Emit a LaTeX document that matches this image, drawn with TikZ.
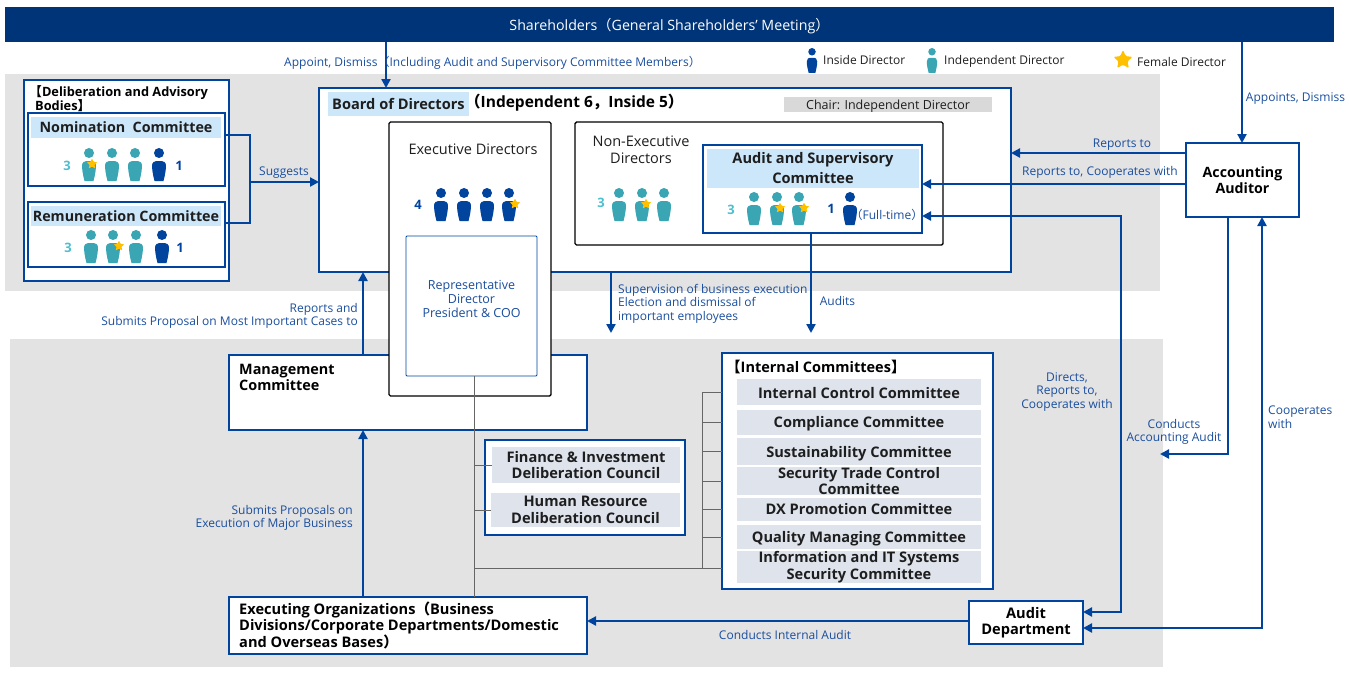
\documentclass[tikz,border=0pt]{standalone}
\usepackage{fontspec}
\setmainfont{Open Sans}
\newfontfamily\cjk{Noto Sans CJK JP}
\usetikzlibrary{shapes.geometric,arrows.meta,positioning}

\definecolor{navybar}{HTML}{003478}
\definecolor{lineblue}{HTML}{00449E}
\definecolor{textblue}{HTML}{1A4E9E}
\definecolor{tealdir}{HTML}{3AA5B3}
\definecolor{tealnum}{HTML}{4DBFCE}
\definecolor{stargold}{HTML}{FFC000}
\definecolor{panelgray}{HTML}{E3E3E3}
\definecolor{headblue}{HTML}{CCE6FA}
\definecolor{rowgray}{HTML}{DEE3EC}
\definecolor{chairgray}{HTML}{D9D9D9}
\definecolor{inktext}{HTML}{1E1E1E}

\tikzset{
    panel/.style={fill=panelgray, inner sep=0, outer sep=0},
    bluebox/.style={draw=lineblue, line width=2.2pt, fill=white, inner sep=0, outer sep=0},
    blackbox/.style={draw=black, line width=1.4pt, fill=white, rounded corners=1.5pt, inner sep=0, outer sep=0},
    headbar/.style={fill=headblue, inner sep=0, outer sep=0, align=center, text=inktext, font=\fontsize{14.3}{20}\selectfont\bfseries},
    rowbar/.style={fill=rowgray, inner sep=0, outer sep=0, align=center, text=inktext, font=\fontsize{14.6}{16.5}\selectfont\bfseries},
    boxtext/.style={inner sep=0, align=left, text=black, font=\fontsize{14.4}{16.5}\selectfont\bfseries},
    plaintext/.style={inner sep=0, align=center, text=inktext, font=\fontsize{14.5}{16.5}\selectfont},
    note/.style={inner sep=0, align=center, text=textblue, font=\fontsize{12}{13.5}\selectfont},
    legend/.style={inner sep=0, anchor=west, text=inktext, font=\fontsize{12}{13.5}\selectfont},
    tealcount/.style={inner sep=0, text=tealnum, font=\fontsize{13}{14}\selectfont\bfseries},
    bluecount/.style={inner sep=0, text=lineblue, font=\fontsize{13}{14}\selectfont\bfseries},
    femalemark/.style={star, star points=5, star point ratio=2.1, fill=stargold, rounded corners=0.6pt, minimum size=11pt, inner sep=0},
    nudge/.style={execute at begin node={\rule{0pt}{#1}}},
    flow/.style={draw=lineblue, line width=2.6pt, -{Triangle[length=9pt,width=9pt]}},
    twoway/.style={draw=lineblue, line width=2.6pt, {Triangle[length=9pt,width=9pt]}-{Triangle[length=9pt,width=9pt]}},
    bracket/.style={draw=lineblue, line width=2.6pt},
    orgline/.style={draw=black!60, line width=0.8pt},
    director/.pic={
        \fill (0,-15) circle (5);
        \fill (-4.5,13) .. controls (-5.5,9) and (-6.8,4) .. (-7,-2)
            .. controls (-7,-6) and (-5,-7) .. (0,-7)
            .. controls (5,-7) and (7,-6) .. (7,-2)
            .. controls (6.8,4) and (5.5,9) .. (4.5,13) -- cycle;
    }
}

\begin{document}
\begin{tikzpicture}[x=1pt, y=-1pt]
    \useasboundingbox (0,0) rectangle (1350,673);

    \node[panel, minimum width=1155, minimum height=217] (toppanel) at (582.5,182.5) {};
    \node[panel, minimum width=1153, minimum height=328] (lowpanel) at (586.5,503) {};

    \node[fill=navybar, inner sep=0, outer sep=0, minimum width=1329, minimum height=35, text=white, align=center, nudge=16pt, font=\fontsize{14.2}{16}\selectfont] (holders) at (669.5,24.5) {Shareholders{\cjk （}General Shareholders’ Meeting{\cjk ）}};

    % advisory bodies
    \node[bluebox, minimum width=205, minimum height=201] (advisory) at (126.5,180.5) {};
    \node[boxtext, anchor=north west, font=\fontsize{12.8}{14.5}\selectfont\bfseries] (advisorytitle) at (35,85) {\hspace{-6pt}{\cjk 【}Deliberation and Advisory\\Bodies{\cjk 】}};
    \node[bluebox, minimum width=197, minimum height=73] (nomination) at (126.5,149.5) {};
    \node[headbar, minimum width=190, minimum height=21] (nominationhead) at (126,127.5) {Nomination\ \ Committee};
    \node[bluebox, minimum width=197, minimum height=65] (remuneration) at (126.5,234.5) {};
    \node[headbar, minimum width=190, minimum height=20] (remunerationhead) at (126,216) {Remuneration Committee};

    \foreach \px in {89,112,135} \pic[tealdir] at (\px,168) {director};
    \pic[lineblue] at (159,168) {director};
    \node[femalemark] (nomstar) at (92,164) {};
    \node[tealcount] (nomteal) at (67,166) {3};
    \node[bluecount] (nomblue) at (179,166) {1};

    \foreach \px in {91,113,136} \pic[tealdir] at (\px,250) {director};
    \pic[lineblue] at (162,250) {director};
    \node[femalemark] (remstar) at (119,246) {};
    \node[tealcount] (remteal) at (68,248) {3};
    \node[bluecount] (remblue) at (180,248) {1};

    % board
    \node[bluebox, minimum width=692, minimum height=184] (board) at (665,180) {};
    \node[headbar, minimum width=141, minimum height=24, font=\fontsize{14.6}{20}\selectfont\bfseries] (boardhead) at (398.5,104) {Board of Directors};
    \node[boxtext, anchor=west, font=\fontsize{15.5}{18}\selectfont\bfseries] (boardcount) at (465,103) {{\cjk （}Independent 6{\cjk ，}Inside 5{\cjk ）}};
    \node[fill=chairgray, inner sep=0, minimum width=208, minimum height=15, text=inktext, align=center, nudge=12pt, font=\fontsize{12.5}{14}\selectfont] (chair) at (888,104.5) {Chair: Independent Director};

    % management committee goes under the executive directors
    \node[bluebox, minimum width=358, minimum height=75] (management) at (408,392.5) {};
    \node[boxtext, anchor=north west] (managementtext) at (239,364) {Management\\Committee};

    \node[blackbox, minimum width=162, minimum height=274] (execs) at (470,259) {};
    \node[plaintext] (execstext) at (473,149) {Executive Directors};
    \foreach \px in {441,464,487} \pic[lineblue] at (\px,208) {director};
    \pic[lineblue] at (509,208) {director};
    \node[femalemark] (execstar) at (515,204) {};
    \node[bluecount] (execblue) at (418,205) {4};
    \node[draw=lineblue, line width=0.8pt, fill=white, rounded corners=1pt, inner sep=0, outer sep=0, minimum width=131, minimum height=140] (representative) at (471.5,306) {};
    \node[note, font=\fontsize{12.5}{14}\selectfont] (representativetext) at (471.5,299) {Representative\\Director\\President \& COO};

    \node[blackbox, minimum width=368, minimum height=123] (nonexecs) at (759,183.5) {};
    \node[plaintext] (nonexecstext) at (641,149.5) {Non-Executive\\Directors};
    \foreach \px in {619,642,664} \pic[tealdir] at (\px,208) {director};
    \node[femalemark] (nonexecstar) at (646,204) {};
    \node[tealcount] (nonexecteal) at (601,203) {3};

    \node[bluebox, minimum width=219, minimum height=88] (audit) at (812.5,189) {};
    \node[headbar, minimum width=212, minimum height=39, nudge=13pt, font=\fontsize{14.6}{20}\selectfont\bfseries] (audithead) at (813,168.5) {Audit and Supervisory\\Committee};
    \foreach \px in {754,777,799} \pic[tealdir] at (\px,212) {director};
    \pic[lineblue] at (850,212) {director};
    \node[femalemark] (auditstara) at (780,208) {};
    \node[femalemark] (auditstarb) at (804,208) {};
    \node[tealcount] (auditteal) at (731,210) {3};
    \node[bluecount] (auditblue) at (831,209) {1};
    \node[note] (fulltime) at (887,215) {{\cjk （}Full-time{\cjk ）}};

    % legend
    \pic[lineblue, scale=0.75] at (812,63) {director};
    \node[legend] (insidekey) at (823,60) {Inside Director};
    \pic[tealdir, scale=0.75] at (932,63) {director};
    \node[legend] (indepkey) at (944,61) {Independent Director};
    \node[femalemark, minimum size=20pt, rounded corners=1.2pt] (femalekey) at (1123,60) {};
    \node[legend] (femalekeytext) at (1137,62) {Female Director};

    % lower boxes
    \node[bluebox, minimum width=271, minimum height=236] (internal) at (857.5,471) {};
    \node[boxtext, anchor=west, font=\fontsize{14.5}{15}\selectfont\bfseries] (internaltitle) at (726,367) {{\cjk 【}Internal Committees{\cjk 】}};
    \node[rowbar, minimum width=244, minimum height=26, nudge=13pt] (rowcontrol) at (859,392) {Internal Control Committee};
    \node[rowbar, minimum width=244, minimum height=25, nudge=13pt] (rowcompliance) at (859,422.5) {Compliance Committee};
    \node[rowbar, minimum width=244, minimum height=27, nudge=15pt] (rowsustain) at (859,451.5) {Sustainability Committee};
    \node[rowbar, minimum width=244, minimum height=26] (rowtrade) at (859,481) {Security Trade Control\\Committee};
    \node[rowbar, minimum width=244, minimum height=23] (rowdx) at (859,509.5) {DX Promotion Committee};
    \node[rowbar, minimum width=244, minimum height=24, nudge=15pt] (rowquality) at (859,537) {Quality Managing Committee};
    \node[rowbar, minimum width=244, minimum height=30, nudge=15pt] (rowinfo) at (859,567) {Information and IT Systems\\Security Committee};

    \node[bluebox, minimum width=200, minimum height=95] (councils) at (585,487.5) {};
    \node[rowbar, minimum width=188, minimum height=36] (finance) at (586,465) {Finance \& Investment\\Deliberation Council};
    \node[rowbar, minimum width=189, minimum height=34, nudge=14pt] (humanres) at (585.5,510) {Human Resource\\Deliberation Council};

    \node[bluebox, minimum width=358, minimum height=57] (executing) at (408,625.5) {};
    \node[boxtext, anchor=west, font=\fontsize{14.6}{16.5}\selectfont\bfseries] (executingtext) at (239,625) {Executing Organizations{\cjk （}Business\\Divisions/Corporate Departments/Domestic\\and Overseas Bases{\cjk ）}};
    \node[bluebox, minimum width=114, minimum height=43, align=center, text=black, nudge=13pt, font=\fontsize{14.6}{16.5}\selectfont\bfseries] (auditdept) at (1026,622.5) {Audit\\Department};
    \node[bluebox, minimum width=113, minimum height=74, align=center, text=black, font=\fontsize{14.2}{16.5}\selectfont\bfseries] (auditor) at (1242.5,180) {Accounting\\Auditor};

    % thin organisation lines
    \coordinate (trunk) at (474,0);
    \coordinate (comb) at (702,568);
    \draw[orgline] (representative.south -| trunk) -- (executing.north -| trunk);
    \draw[orgline] (trunk |- finance) -- (finance.west);
    \draw[orgline] (trunk |- humanres) -- (humanres.west);
    \draw[orgline] (trunk |- comb) -- (comb -| internal.west);
    \draw[orgline] (comb) -- (comb |- rowcontrol);
    \foreach \rowname in {rowcontrol,rowcompliance,rowsustain,rowtrade,rowdx,rowquality}
        \draw[orgline] (comb |- \rowname) -- (internal.west |- \rowname);

    % connectors
    \coordinate (appointx) at (386,0);
    \coordinate (dismissx) at (1242,0);
    \coordinate (superx) at (611,333);
    \coordinate (auditsx) at (811,333);
    \coordinate (reportx) at (363,0);
    \coordinate (suggesty) at (250,182);
    \coordinate (nomy) at (0,135);
    \coordinate (remy) at (0,223);
    \coordinate (reportstoy) at (0,153);
    \coordinate (cooperatey) at (0,184);
    \coordinate (fulltimey) at (0,216);
    \coordinate (dualx) at (1121,0);
    \coordinate (deptupy) at (0,612);
    \coordinate (deptlowy) at (0,628);
    \coordinate (internaly) at (0,621);
    \coordinate (aax) at (1228,0);
    \coordinate (coopx) at (1262,0);
    \coordinate (aaend) at (1160,454);

    \path
    (holders.south -| appointx) edge[flow] (board.north -| appointx)
    (holders.south -| dismissx) edge[flow] (auditor.north -| dismissx)
    (suggesty) edge[flow] (board.west |- suggesty)
    (auditor.west |- reportstoy) edge[flow] (board.east |- reportstoy)
    (auditor.west |- cooperatey) edge[flow] (audit.east |- cooperatey)
    (board.south -| superx) edge[flow] (superx)
    (audit.south -| auditsx) edge[flow] (auditsx)
    (management.north -| reportx) edge[flow] (board.south -| reportx)
    (executing.north -| reportx) edge[flow] (management.south -| reportx)
    (auditdept.west |- internaly) edge[flow] (executing.east |- internaly);

    \draw[bracket] (nomination.east |- nomy) -| (suggesty) |- (remuneration.east |- remy);
    \draw[flow] (auditor.south -| aax) |- (aaend);
    \draw[twoway] (audit.east |- fulltimey) -- (dualx |- fulltimey) -- (dualx |- deptupy) -- (auditdept.east |- deptupy);
    \draw[twoway] (auditor.south -| coopx) |- (auditdept.east |- deptlowy);

    % connector labels
    \node[note] (appointnote) at (492.5,63) {Appoint, Dismiss{\cjk （}Including Audit and Supervisory Committee Members{\cjk ）}};
    \node[note] (suggestsnote) at (284,173) {Suggests};
    \node[note] (dismissnote) at (1295.5,99) {Appoints, Dismiss};
    \node[note] (reportsnote) at (1122,144.5) {Reports to};
    \node[note] (cooperatesnote) at (1100,172) {Reports to, Cooperates with};
    \node[note, align=left, anchor=north west] (supervisionnote) at (618,284) {Supervision of business execution\\Election and dismissal of\\important employees};
    \node[note] (auditsnote) at (837.5,301) {Audits};
    \node[note, align=right, anchor=east] (submitsnote) at (358,316) {Reports and\\Submits Proposal on Most Important Cases to};
    \node[note, align=right, anchor=east] (majornote) at (353,518) {Submits Proposals on\\Execution of Major Business};
    \node[note] (directsnote) at (1067,392) {Directs,\\Reports to,\\Cooperates with};
    \node[note] (accountingnote) at (1174,432) {Conducts\\Accounting Audit};
    \node[note, align=left, anchor=west] (coopnote) at (1268,417) {Cooperates\\with};
    \node[note] (internalnote) at (785,635) {Conducts Internal Audit};
\end{tikzpicture}
\end{document}
